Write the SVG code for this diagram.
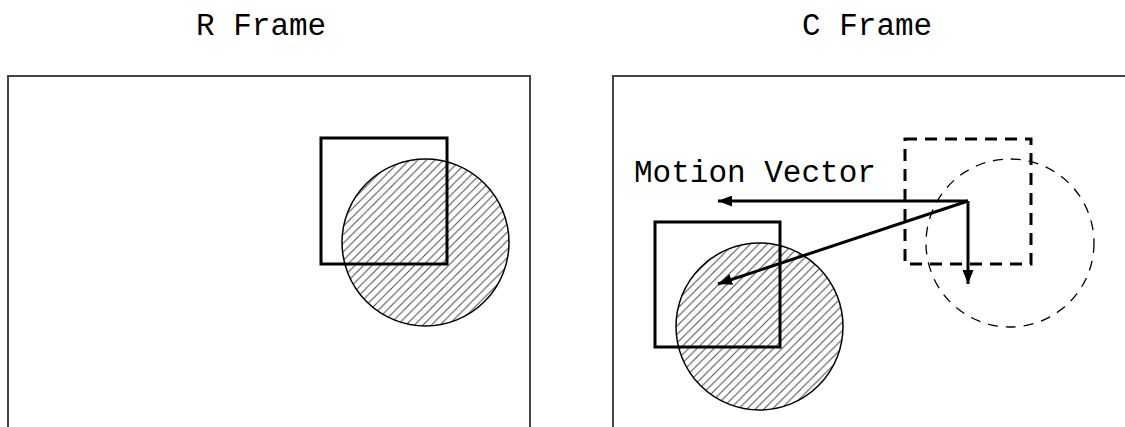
<svg xmlns="http://www.w3.org/2000/svg" width="1125" height="427" viewBox="0 0 1125 427">
<style>
.title{font-family:"Liberation Mono","Courier New",monospace;font-size:31px;fill:#000}
.frame{fill:none;stroke:#444;stroke-width:2}
.box{fill:none;stroke:#000;stroke-width:3}
.dbox{fill:none;stroke:#000;stroke-width:3;stroke-dasharray:12 8}
.obj{fill:url(#hatch);stroke:#000;stroke-width:1.5}
.dobj{fill:none;stroke:#000;stroke-width:1.3;stroke-dasharray:10 8}
.vec{stroke:#000;stroke-width:3;fill:none;marker-end:url(#ah)}
</style>
<defs>
<pattern id="hatch" patternUnits="userSpaceOnUse" width="8.5" height="8.5">
<path d="M0,8.5 L8.5,0 M-1,1 L1,-1 M7.5,9.5 L9.5,7.5" stroke="#444" stroke-width="1"/>
</pattern>
<marker id="ah" markerUnits="userSpaceOnUse" markerWidth="15" markerHeight="11" refX="14" refY="5.5" orient="auto">
<path d="M0,0 L14,5.5 L0,11 Z" fill="#000"/>
</marker>
</defs>
<g id="r-frame">
<text class="title" x="196" y="35">R Frame</text>
<path class="frame" d="M8,440 V76 H530 V440"/>
<g id="r-object"><circle class="obj" cx="425.5" cy="242.5" r="83.5"/></g>
<g id="r-block"><rect class="box" x="321" y="138" width="126" height="126"/></g>
</g>
<g id="c-frame">
<text class="title" x="802" y="35">C Frame</text>
<path class="frame" d="M613,440 V76 H1130"/>
<g id="c-object"><circle class="obj" cx="759.5" cy="326.5" r="83.5"/></g>
<g id="c-block"><rect class="box" x="655" y="222" width="125" height="125"/></g>
<g id="c-prev-object"><circle class="dobj" cx="1010" cy="243" r="84"/></g>
<g id="c-prev-block"><rect class="dbox" x="905" y="139" width="126" height="125"/></g>
<text id="mv-label" class="title" x="634" y="182">Motion Vector</text>
</g>
<g id="connectors">
<line class="vec" x1="968" y1="201" x2="718" y2="201"/>
<line class="vec" x1="968" y1="201" x2="718" y2="284"/>
<line class="vec" x1="968" y1="201" x2="968" y2="284"/>
</g>
</svg>
